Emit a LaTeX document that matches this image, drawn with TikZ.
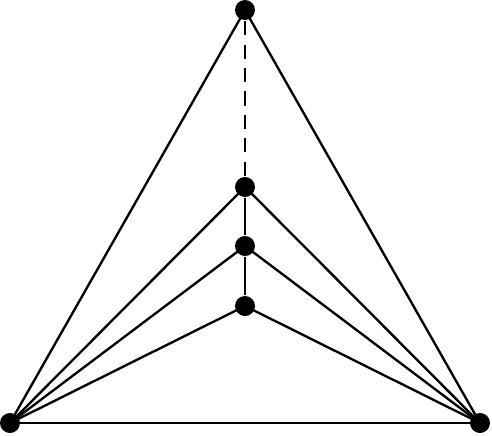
\documentclass[tikz,border=0pt]{standalone}
\begin{document}
\begin{tikzpicture}[x=0.03cm, y=-0.03cm, line width=2pt,
	dot/.style={circle, fill=black, inner sep=0pt, minimum size=0.6cm}]

	\useasboundingbox (0,0) rectangle (492,435);

	\node[dot] (t) at (245,10) {};
	\node[dot] (l) at (10,423) {};
	\node[dot] (r) at (480,423) {};
	\node[dot] (a) at (245,187) {};
	\node[dot] (b) at (245,246) {};
	\node[dot] (c) at (245,306) {};

	\draw (l.center) -- (r.center);
	\draw (l.center) -- (t.center);
	\draw (r.center) -- (t.center);
	\draw[dash pattern=on 12pt off 8pt] (t) -- (a);
	\draw (a) -- (b) -- (c);
	\draw (l.center) -- (a.center) -- (r.center);
	\draw (l.center) -- (b.center) -- (r.center);
	\draw (l.center) -- (c.center) -- (r.center);

\end{tikzpicture}
\end{document}
